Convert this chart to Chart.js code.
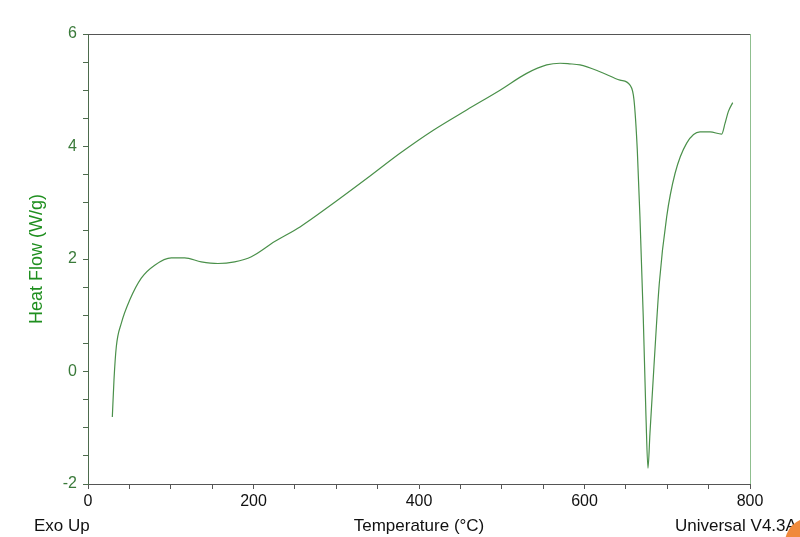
<!DOCTYPE html>
<html>
<head>
  <title>Heat Flow vs Temperature</title>
  <script src="https://cdn.jsdelivr.net/npm/chart.js"></script>
  <style>
    html, body { margin: 0; padding: 0; background: #ffffff; }
    #wrap { width: 800px; height: 537px; }
  </style>
</head>
<body>
  <div id="wrap"><canvas id="chart" width="800" height="537"></canvas></div>
  <script>
    // Temperature (°C) and heat flow (W/g)
    var temperature = [29.4, 31.4, 34.2, 40.3, 50.4, 64.4, 80.6, 100.7, 116.8, 136.9, 157, 177.2, 197.4,
      225.6, 256.2, 296.5, 336.8, 377, 417.3, 457.6, 497.9, 530.1, 554.3, 570.4, 581.6, 594.6, 618.7,
      642.9, 655, 659.8, 663.8, 667, 671, 674.3, 676.7, 679.1, 683.9, 690.4, 699.3, 709.4, 723.5,
      739.6, 751.7, 765.8, 769.8, 773.8, 779.1];
    var heatFlow = [-0.81, -0.15, 0.44, 0.86, 1.27, 1.66, 1.89, 2.02, 2.02, 1.95, 1.92, 1.95, 2.04,
      2.31, 2.57, 2.99, 3.43, 3.88, 4.29, 4.65, 5.0, 5.3, 5.45, 5.48, 5.47, 5.45, 5.33,
      5.18, 5.09, 4.83, 3.94, 2.75, 0.97, -0.8, -1.72, -1.1, 0.085, 1.57, 2.75, 3.52, 4.06,
      4.26, 4.26, 4.22, 4.41, 4.62, 4.78];

    var xLabels = [0, 200, 400, 600, 800];
    var yLabels = [-2, 0, 2, 4, 6];

    var points = temperature.map(function(t, i) { return { x: t, y: heatFlow[i] }; });

    var FONT = '"Liberation Sans", Arial, sans-serif';

    // extra texts, frame lines and the corner mark
    var decor = {
      id: 'decor',
      afterDraw: function(chart) {
        var ctx = chart.ctx;
        var a = chart.chartArea;
        ctx.save();
        ctx.lineWidth = 1;
        ctx.strokeStyle = '#555555';
        ctx.beginPath();
        ctx.moveTo(a.left, a.top + 0.5);
        ctx.lineTo(a.right, a.top + 0.5);
        ctx.stroke();
        ctx.strokeStyle = '#8fbf8f';
        ctx.beginPath();
        ctx.moveTo(a.right + 0.5, a.top);
        ctx.lineTo(a.right + 0.5, a.bottom);
        ctx.stroke();

        ctx.font = '17px ' + FONT;
        ctx.fillStyle = '#111111';
        ctx.textBaseline = 'middle';
        ctx.textAlign = 'left';
        ctx.fillText('Exo Up', 34, 526);
        ctx.fillText('Universal V4.3A', 675, 526);

        ctx.fillStyle = '#f08a3c';
        ctx.beginPath();
        ctx.arc(810, 543, 25, 0, Math.PI * 2);
        ctx.fill();
        ctx.restore();
      }
    };

    new Chart(document.getElementById('chart'), {
      type: 'line',
      data: {
        datasets: [{
          data: points,
          borderColor: '#4a904a',
          borderWidth: 1.2,
          pointRadius: 0,
          fill: false,
          cubicInterpolationMode: 'monotone'
        }]
      },
      options: {
        responsive: false,
        animation: false,
        layout: { padding: { top: 34, right: 50, left: 26, bottom: 0 } },
        plugins: { legend: { display: false }, tooltip: { enabled: false } },
        scales: {
          x: {
            type: 'linear',
            min: 0,
            max: 800,
            afterFit: function(s) { s.height = 53; },
            border: { color: '#555555', width: 1 },
            grid: { drawOnChartArea: false, tickLength: 5, color: '#555555' },
            ticks: {
              stepSize: 50,
              autoSkip: false,
              maxRotation: 0,
              padding: 3,
              color: '#111111',
              font: { family: FONT, size: 16 },
              callback: function(v) { return xLabels.indexOf(v) >= 0 ? String(v) : ''; }
            },
            title: {
              display: true,
              text: 'Temperature (°C)',
              color: '#111111',
              padding: { top: 0, bottom: 0 },
              font: { family: FONT, size: 17 }
            }
          },
          y: {
            min: -2,
            max: 6,
            afterFit: function(s) { s.width = 62; },
            border: { color: '#4d6b4d', width: 1 },
            grid: { drawOnChartArea: false, tickLength: 5, color: '#4d6b4d' },
            ticks: {
              stepSize: 0.5,
              autoSkip: false,
              padding: 6,
              color: '#3a7a3a',
              font: { family: FONT, size: 16 },
              callback: function(v) { return yLabels.indexOf(v) >= 0 ? String(v) : ''; }
            },
            title: {
              display: true,
              text: 'Heat Flow (W/g)',
              color: '#1f8f1f',
              padding: { top: 0, bottom: 0 },
              font: { family: FONT, size: 18 }
            }
          }
        }
      },
      plugins: [decor]
    });
  </script>
</body>
</html>
